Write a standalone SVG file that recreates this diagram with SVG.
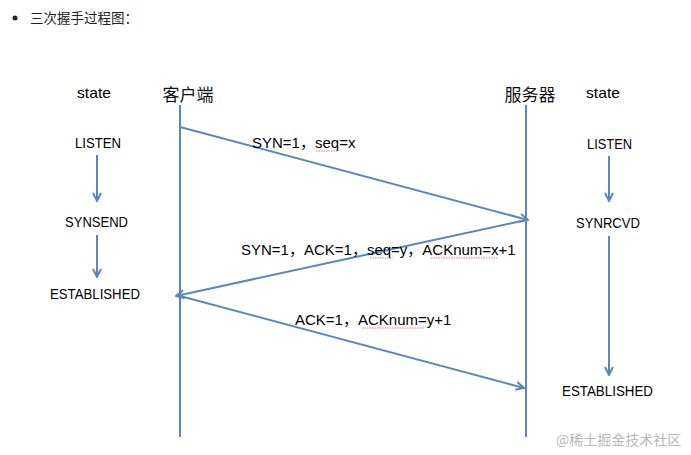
<svg xmlns="http://www.w3.org/2000/svg" width="691" height="455" viewBox="0 0 691 455">
<style>
.t{font-family:"Liberation Sans","Noto Sans CJK SC",sans-serif;font-size:15px;fill:#000;}
.c{text-anchor:middle;}
.cjk{font-family:"Noto Sans CJK SC",sans-serif;font-size:17px;fill:#111;text-anchor:middle;}
.ln{stroke:#5b87bf;stroke-width:2;fill:none;}
.sq{stroke:#e05050;stroke-width:0.8;fill:none;stroke-dasharray:1.5 1;}
</style>
<defs>
<marker id="ah" viewBox="0 0 10 10" refX="9" refY="5" markerWidth="5" markerHeight="5" orient="auto" markerUnits="strokeWidth">
<path d="M1,1 L9,5 L1,9" fill="none" stroke="#5b87bf" stroke-width="2"/>
</marker>
</defs>
<rect width="691" height="455" fill="#fff"/>
<g id="title">
<circle cx="15" cy="18" r="2.5" fill="#222"/>
<text x="30" y="23" style="font-family:'Noto Sans CJK SC',sans-serif;font-size:13.5px;fill:#222">三次握手过程图：</text>
</g>
<g id="client">
<text class="cjk" x="188" y="101">客户端</text>
</g>
<g id="server">
<text class="cjk" x="530" y="101">服务器</text>
</g>
<g id="left-states">
<text class="t" x="77" y="98" textLength="34" lengthAdjust="spacingAndGlyphs">state</text>
<text class="t" x="75" y="148" textLength="46" lengthAdjust="spacingAndGlyphs">LISTEN</text>
<text class="t" x="65" y="227" textLength="63" lengthAdjust="spacingAndGlyphs">SYNSEND</text>
<text class="t" x="50" y="299" textLength="90" lengthAdjust="spacingAndGlyphs">ESTABLISHED</text>
</g>
<g id="right-states">
<text class="t" x="586" y="98" textLength="34" lengthAdjust="spacingAndGlyphs">state</text>
<text class="t" x="587" y="149" textLength="45" lengthAdjust="spacingAndGlyphs">LISTEN</text>
<text class="t" x="576" y="228" textLength="64" lengthAdjust="spacingAndGlyphs">SYNRCVD</text>
<text class="t" x="562" y="396" textLength="91" lengthAdjust="spacingAndGlyphs">ESTABLISHED</text>
</g>
<g id="connectors">
<line class="ln" x1="180" y1="105" x2="180" y2="437"/>
<line class="ln" x1="526" y1="105" x2="526" y2="437"/>
<line class="ln" x1="97" y1="155" x2="97" y2="201" marker-end="url(#ah)"/>
<line class="ln" x1="97" y1="235" x2="97" y2="277" marker-end="url(#ah)"/>
<line class="ln" x1="609" y1="156" x2="609" y2="201" marker-end="url(#ah)"/>
<line class="ln" x1="609" y1="236" x2="609" y2="375" marker-end="url(#ah)"/>
<line class="ln" x1="180" y1="127" x2="528" y2="220" marker-end="url(#ah)"/>
<line class="ln" x1="526" y1="220" x2="176" y2="296" marker-end="url(#ah)"/>
<line class="ln" x1="180" y1="296" x2="524" y2="388" marker-end="url(#ah)"/>
</g>
<g id="labels">
<text class="t" x="252" y="148">SYN=1，seq=x</text>
<path class="sq" d="M316,151 L338,151"/>
<text class="t" x="241" y="255">SYN=1，ACK=1，seq=y，ACKnum=x+1</text>
<path class="sq" d="M370,258 L393,258 M431,258 L497,258"/>
<text class="t" x="295" y="325">ACK=1，ACKnum=y+1</text>
<path class="sq" d="M362,328 L424,328"/>
</g>
<g id="watermark">
<text x="556" y="445" style="font-family:'Noto Sans CJK SC',sans-serif;font-size:14px;fill:#b8b8b8">@稀土掘金技术社区</text>
</g>
</svg>
